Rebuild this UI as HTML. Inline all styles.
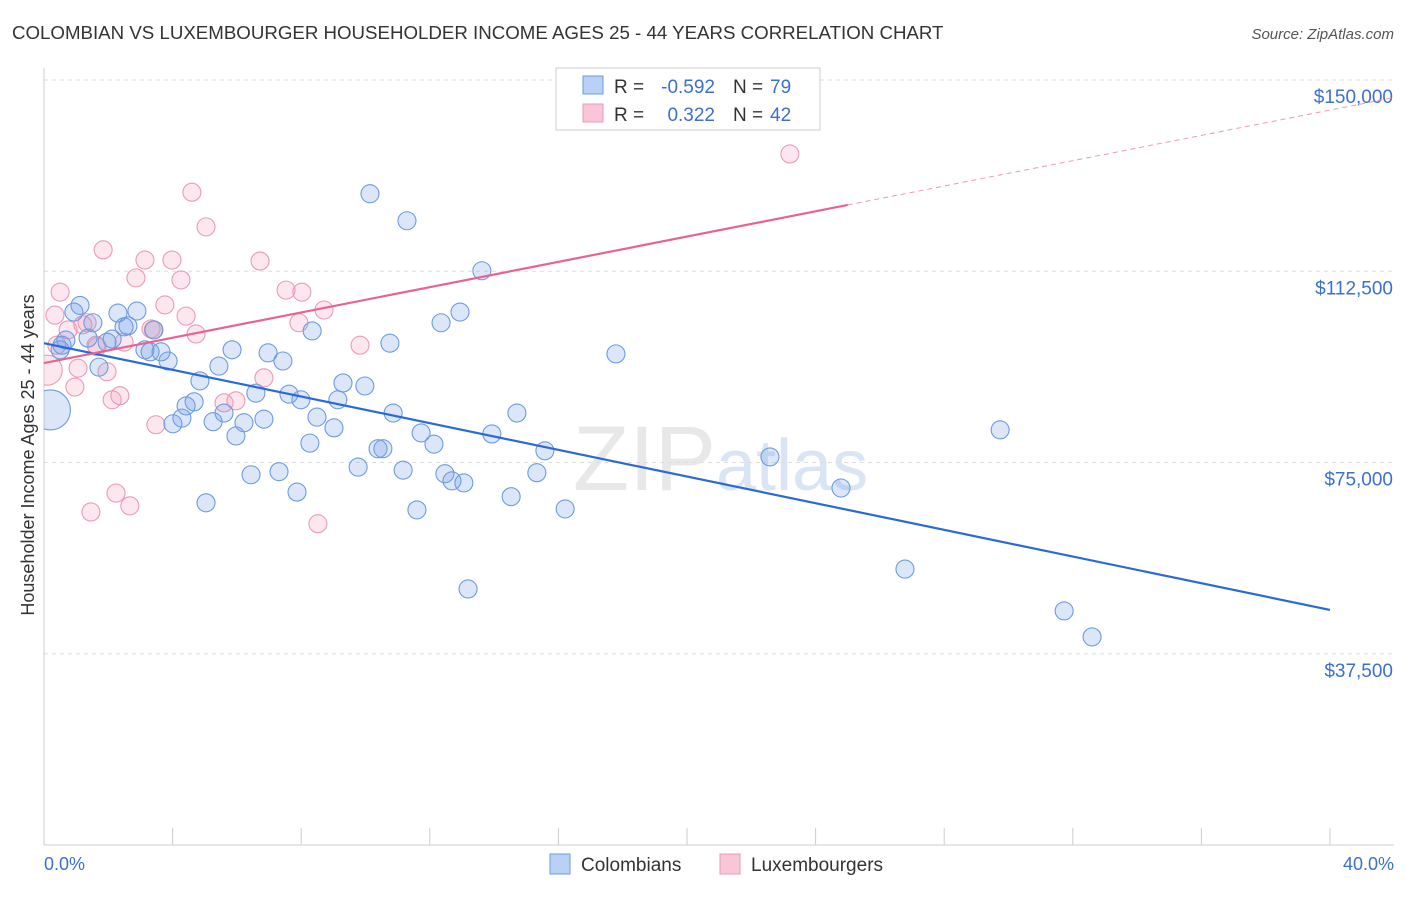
<!DOCTYPE html>
<html><head><meta charset="utf-8"><style>
body{margin:0;background:#fff;font-family:"Liberation Sans",sans-serif}
svg text{font-family:"Liberation Sans",sans-serif}
</style></head><body>
<svg id="c" width="1406" height="892">
<defs><clipPath id="plot"><rect x="44" y="60" width="1360" height="785"/></clipPath></defs>
<text x="12" y="39" font-size="18.7" fill="#333">COLOMBIAN VS LUXEMBOURGER HOUSEHOLDER INCOME AGES 25 - 44 YEARS CORRELATION CHART</text>
<text x="1394" y="39" font-size="15" fill="#555" font-style="italic" text-anchor="end">Source: ZipAtlas.com</text>
<text x="716" y="490" font-size="92" fill="#e8e8e8" text-anchor="end" font-family="Liberation Serif">ZIP</text>
<text x="716" y="490" font-size="72" fill="#d9e4f4">atlas</text>
<g id="grid"></g><g id="axes"></g><g id="pts" clip-path="url(#plot)"></g><g id="lines"></g>
<text transform="translate(34,455) rotate(-90)" font-size="18" fill="#333" text-anchor="middle">Householder Income Ages 25 - 44 years</text>
<text x="44" y="870" font-size="18" fill="#3b6fd4">0.0%</text>
<text x="1394" y="870" font-size="18" fill="#3b6fd4" text-anchor="end">40.0%</text>
<g>
<rect x="556" y="68" width="264" height="62" fill="#fff" stroke="#ccc"/>
<rect x="583" y="76" width="20" height="18" fill="#b9d1f4" stroke="#6d9be0"/>
<rect x="583" y="104" width="20" height="18" fill="#f8c6d6" stroke="#eb9ab4"/>
<text x="614" y="93" font-size="19" fill="#333">R =</text>
<text x="715" y="93" font-size="19" fill="#3b6fd4" text-anchor="end">-0.592</text>
<text x="733" y="93" font-size="19" fill="#333">N =</text>
<text x="770" y="93" font-size="19" fill="#3b6fd4">79</text>
<text x="614" y="121" font-size="19" fill="#333">R =</text>
<text x="715" y="121" font-size="19" fill="#3b6fd4" text-anchor="end">0.322</text>
<text x="733" y="121" font-size="19" fill="#333">N =</text>
<text x="770" y="121" font-size="19" fill="#3b6fd4">42</text>
</g>
<g>
<rect x="550" y="854" width="20" height="20" fill="#b9d1f4" stroke="#6d9be0"/>
<text x="581" y="871" font-size="19" fill="#333">Colombians</text>
<rect x="720" y="854" width="20" height="20" fill="#f8c6d6" stroke="#eb9ab4"/>
<text x="751" y="871" font-size="19" fill="#333">Luxembourgers</text>
</g>
</svg>
<script>
const yTicks=[150000,112500,75000,37500];
const yTickLabels=["$150,000","$112,500","$75,000","$37,500"];
const xTicks=[0,4,8,12,16,20,24,28,32,36,40];
const blueX=[0.2,0.5,0.68,0.56,0.93,1.12,1.52,1.37,1.71,1.96,2.12,2.30,2.49,2.61,2.89,3.14,3.30,3.42,3.64,3.86,4.01,4.29,4.42,4.67,4.85,5.04,5.26,5.44,5.60,5.85,5.97,6.22,6.44,6.59,6.84,6.97,7.31,7.43,7.62,7.87,7.99,8.27,8.34,8.49,9.02,9.14,9.30,9.77,9.98,10.14,10.39,10.54,10.76,10.86,11.17,11.29,11.60,11.73,12.13,12.35,12.47,12.69,12.94,13.06,13.19,13.62,13.93,14.53,14.71,15.33,15.58,16.21,17.79,22.58,24.79,26.78,29.74,31.73,32.60];
const blueY=[85.3,97.1,99.0,98.0,104.5,105.8,102.4,99.4,93.7,98.6,99.2,104.3,101.6,101.8,104.7,97.1,96.7,101.0,96.7,94.9,82.6,83.7,86.1,86.9,91.0,67.1,83.0,93.9,84.7,97.1,80.2,82.8,72.6,88.6,83.5,96.5,73.2,94.9,88.4,69.2,87.3,78.8,100.8,83.9,81.8,87.3,90.6,74.1,90.0,127.7,77.7,77.7,98.4,84.7,73.5,122.4,65.7,80.8,78.6,102.4,72.8,71.4,104.5,71.0,50.2,112.6,80.6,68.3,84.7,73.0,77.3,65.9,96.3,76.1,70.0,54.1,81.4,45.9,40.8];
const blueSize=[20];
const pinkX=[0.1,0.34,0.50,0.40,0.75,0.96,1.06,1.21,1.34,1.46,1.65,1.84,1.96,2.12,2.24,2.36,2.49,2.67,2.86,3.14,3.33,3.48,3.76,3.98,4.26,4.42,4.60,4.73,5.04,5.60,5.97,6.72,6.84,7.53,7.93,8.02,8.52,8.71,9.83,23.20,1.62,3.40];
const pinkY=[93.1,103.9,108.4,98.0,101.0,89.8,93.5,102.0,102.4,65.3,97.7,116.7,92.8,87.3,69.0,88.1,98.6,66.5,111.2,114.7,101.2,82.4,105.9,114.7,110.8,103.7,128.0,100.2,121.2,86.7,87.1,114.5,91.6,108.8,102.4,108.4,63.0,104.9,98.0,135.5,98.0,101.0];
const pinkSize=[15];
const blueTrend=[[0,98.4],[40,46.1]];
const pinkTrend=[[0,94.5],[25,125.5],[40,144.1]];
const NS="http://www.w3.org/2000/svg";
const X0=44,X1=1330,YB=845,YT=80;
function sx(p){return X0+(p/40)*(X1-X0);}
function sy(v){return YB-(v/150000)*(YB-YT);}
function el(t,a,p){const e=document.createElementNS(NS,t);for(const k in a)e.setAttribute(k,a[k]);document.getElementById(p).appendChild(e);return e;}
yTicks.forEach((v,i)=>{
 const l=el('line',{x1:X0,x2:1394,y1:sy(v),y2:sy(v),stroke:'#ddd','stroke-dasharray':'4,4'},'grid');
 
 
 const t=el('text',{x:1393,y:sy(v)+23,'font-size':19,fill:'#3b6fd4','text-anchor':'end'},'axes');
 t.textContent=yTickLabels[i];
 
 
});
const ax=el('line',{x1:X0,x2:X0,y1:68,y2:YB,stroke:'#ccc'},'axes');


const bx=el('line',{x1:X0,x2:1394,y1:YB,y2:YB,stroke:'#ccc'},'axes');


xTicks.forEach(p=>{
 const l=el('line',{x1:sx(p),x2:sx(p),y1:828,y2:YB,stroke:'#ccc'},'axes');
 
 
});
function pts(xs,ys,sz,fill,stroke,name){
 xs.forEach((x,i)=>{
  const c=el('circle',{cx:sx(x),cy:sy(ys[i]*1000),r:sz[i]||9,fill:fill,stroke:stroke,'stroke-width':1.1},'pts');
  
  
 });
}
pts(pinkX,pinkY,pinkSize,'rgba(243,160,188,0.25)','#eb9ab4','luxembourger-point');
pts(blueX,blueY,blueSize,'rgba(110,155,230,0.25)','#6d9be0','colombian-point');
const b=el('line',{x1:sx(blueTrend[0][0]),y1:sy(blueTrend[0][1]*1000),x2:sx(blueTrend[1][0]),y2:sy(blueTrend[1][1]*1000),stroke:'#2a6ad8','stroke-width':2.2},'lines');


const p1=el('line',{x1:sx(pinkTrend[0][0]),y1:sy(pinkTrend[0][1]*1000),x2:sx(pinkTrend[1][0]),y2:sy(pinkTrend[1][1]*1000),stroke:'#e8648f','stroke-width':2.2},'lines');


const p2=el('line',{x1:sx(pinkTrend[1][0]),y1:sy(pinkTrend[1][1]*1000),x2:1393,y2:sy((pinkTrend[1][1]+(pinkTrend[2][1]-pinkTrend[1][1])*((1393-sx(pinkTrend[1][0]))/(sx(pinkTrend[2][0])-sx(pinkTrend[1][0]))))*1000),stroke:'#eb9ab4','stroke-width':1,'stroke-dasharray':'5,4'},'lines');


</script>
</body></html>
